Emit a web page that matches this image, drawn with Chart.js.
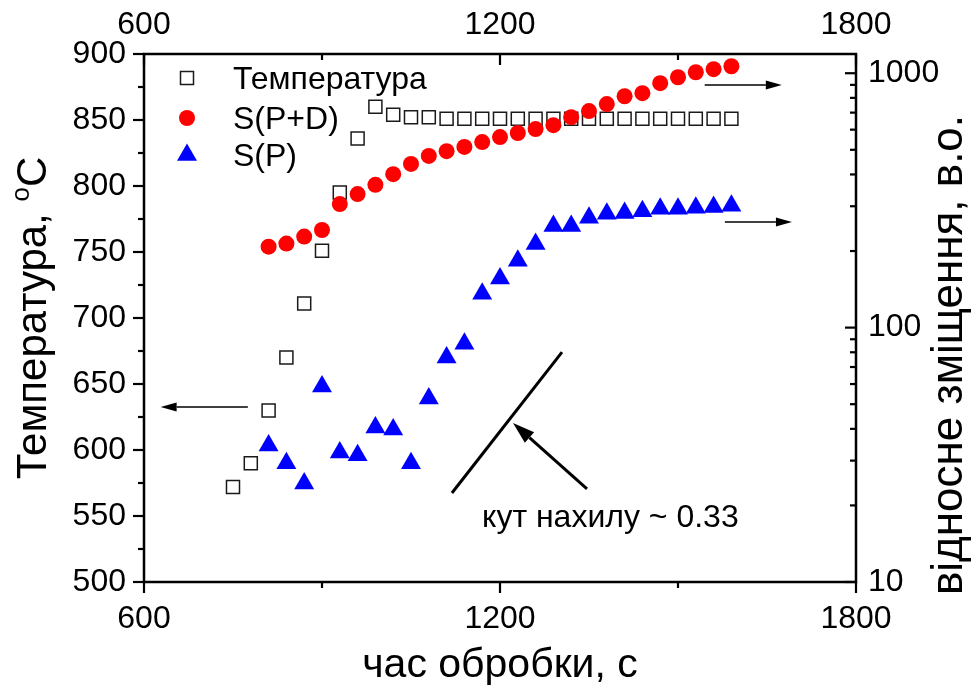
<!DOCTYPE html>
<html>
<head>
<meta charset="utf-8">
<script src="https://cdn.jsdelivr.net/npm/chart.js@4.4.1/dist/chart.umd.min.js"></script>
<style>
  html, body { margin: 0; padding: 0; background: #fff; }
  canvas { display: block; }
</style>
</head>
<body>
<canvas id="chart" width="975" height="686"></canvas>
<script>
// ---- values ----
const tempTime = [750, 780, 810, 840, 870, 900, 930, 960, 990, 1020, 1050, 1080, 1110, 1140, 1170,
                  1200, 1230, 1260, 1290, 1320, 1350, 1380, 1410, 1440, 1470, 1500, 1530, 1560, 1590];
const tempVals = [572, 590, 630, 670, 711, 751, 795, 836, 860, 854, 852, 852, 851, 851, 851,
                  851, 851, 851, 851, 851, 851, 851, 851, 851, 851, 851, 851, 851, 851];

const sTime = [810, 840, 870, 900, 930, 960, 990, 1020, 1050, 1080, 1110, 1140, 1170, 1200,
               1230, 1260, 1290, 1320, 1350, 1380, 1410, 1440, 1470, 1500, 1530, 1560, 1590];
const spdVals = [208, 214, 228, 242, 306, 335, 364, 401, 440, 473, 494, 513, 536, 561,
                 582, 603, 625, 672, 710, 756, 812, 835, 914, 964, 1009, 1037, 1065];
const spVals = [34.4, 29.3, 24.4, 58.7, 32.3, 31.5, 40.5, 39.8, 29.3, 52.7, 76.3, 86.5, 136, 156,
                183, 213, 251, 251, 270, 280, 282, 287, 293, 293, 296, 298, 301];

const seriesNames = ['Температура', 'S(P+D)', 'S(P)'];

// tick labels
const xLabels = [600, 1200, 1800];
const xMinor = [900, 1500];
const yLabels = [500, 550, 600, 650, 700, 750, 800, 850, 900];
const yMinor = [525, 575, 625, 675, 725, 775, 825, 875];
const y2Labels = [10, 100, 1000];

// annotations, in (time, temperature) units
const leftArrow = [[775, 632.6], [628, 632.6]];
const rightArrow1 = [[1545, 876.5], [1675, 876.5]];
const rightArrow2 = [[1579, 772.7], [1692, 772.7]];
const slopeLine = [[1119, 567.4], [1304.5, 674.2]];
const pointer = [[1346.6, 570.5], [1222, 620.5]];
const noteText = 'кут нахилу ~ 0.33';
const notePos = [1169.7, 541.7];

const FONT = "'Liberation Sans', Arial, sans-serif";

// y2 minor ticks (2..9 in each decade)
const y2Minor = [];
[10, 100].forEach(d => { for (let k = 2; k <= 9; k++) y2Minor.push(d * k); });

function arrow(ctx, x1, y1, x2, y2, lw, headLen, headW) {
  const ang = Math.atan2(y2 - y1, x2 - x1);
  const bx = x2 - Math.cos(ang) * headLen, by = y2 - Math.sin(ang) * headLen;
  ctx.lineWidth = lw;
  ctx.beginPath(); ctx.moveTo(x1, y1); ctx.lineTo(bx, by); ctx.stroke();
  ctx.beginPath();
  ctx.moveTo(x2, y2);
  ctx.lineTo(bx + Math.sin(ang) * headW, by - Math.cos(ang) * headW);
  ctx.lineTo(bx - Math.sin(ang) * headW, by + Math.cos(ang) * headW);
  ctx.closePath(); ctx.fill();
}

const extras = {
  id: 'extras',
  afterDraw(chart) {
    const { ctx, chartArea: a, scales } = chart;
    const sx = scales.x, sy = scales.y, sy2 = scales.y2;
    const P = (p) => [sx.getPixelForValue(p[0]), sy.getPixelForValue(p[1])];
    ctx.save();
    ctx.strokeStyle = '#000';
    ctx.fillStyle = '#000';
    ctx.lineCap = 'butt';

    // frame
    ctx.lineWidth = 2.5;
    ctx.strokeRect(a.left, a.top, a.right - a.left, a.bottom - a.top);

    // tick marks
    ctx.lineWidth = 2.2;
    const tick = (x1, y1, x2, y2) => { ctx.beginPath(); ctx.moveTo(x1, y1); ctx.lineTo(x2, y2); ctx.stroke(); };
    xLabels.forEach(v => { const px = sx.getPixelForValue(v); tick(px, a.bottom, px, a.bottom + 11); tick(px, a.top, px, a.top + 11); });
    xMinor.forEach(v => { const px = sx.getPixelForValue(v); tick(px, a.bottom, px, a.bottom + 6); tick(px, a.top, px, a.top + 6); });
    yLabels.forEach(v => { const py = sy.getPixelForValue(v); tick(a.left - 11, py, a.left, py); });
    yMinor.forEach(v => { const py = sy.getPixelForValue(v); tick(a.left - 6, py, a.left, py); });
    y2Labels.forEach(v => { const py = sy2.getPixelForValue(v); tick(a.right - 11, py, a.right, py); });
    y2Minor.forEach(v => { const py = sy2.getPixelForValue(v); tick(a.right - 6, py, a.right, py); });

    // legend
    const lx = 187, ly = [78, 118, 155];
    ctx.lineWidth = 1.5;
    ctx.strokeStyle = '#1a1a1a';
    ctx.strokeRect(lx - 6.5, ly[0] - 6.5, 13, 13);
    ctx.fillStyle = '#ff0000';
    ctx.beginPath(); ctx.arc(lx, ly[1], 8, 0, Math.PI * 2); ctx.fill();
    ctx.fillStyle = '#0000ff';
    ctx.beginPath();
    ctx.moveTo(lx, ly[2] - 11.5);
    ctx.lineTo(lx + 10, ly[2] + 5.75);
    ctx.lineTo(lx - 10, ly[2] + 5.75);
    ctx.closePath(); ctx.fill();
    ctx.fillStyle = '#000';
    ctx.strokeStyle = '#000';
    ctx.font = '32px ' + FONT;
    ctx.textAlign = 'left';
    ctx.textBaseline = 'alphabetic';
    const lb = [89, 129, 166];
    seriesNames.forEach((n, i) => ctx.fillText(n, 233, lb[i]));

    // axis titles
    ctx.font = '41px ' + FONT;
    ctx.textAlign = 'center';
    ctx.fillText('час обробки, с', (a.left + a.right) / 2, 677);

    // left title with superscript
    ctx.save();
    ctx.translate(46, (a.top + a.bottom) / 2);
    ctx.rotate(-Math.PI / 2);
    ctx.textAlign = 'left';
    const t1 = 'Температура, ', sup = 'o', t2 = 'C';
    ctx.font = '42px ' + FONT;
    const w1 = ctx.measureText(t1).width, w3 = ctx.measureText(t2).width;
    ctx.font = '26px ' + FONT;
    const w2 = ctx.measureText(sup).width;
    const x0 = -(w1 + w2 + w3) / 2;
    ctx.font = '42px ' + FONT;
    ctx.fillText(t1, x0, 0);
    ctx.font = '26px ' + FONT;
    ctx.fillText(sup, x0 + w1, -17);
    ctx.font = '42px ' + FONT;
    ctx.fillText(t2, x0 + w1 + w2, 0);
    ctx.restore();

    // right title
    ctx.save();
    ctx.translate(962, 355);
    ctx.rotate(-Math.PI / 2);
    ctx.textAlign = 'center';
    ctx.font = '44px ' + FONT;
    ctx.fillText('відносне зміщення, в.о.', 0, 0);
    ctx.restore();

    // annotations
    ctx.strokeStyle = '#000';
    ctx.fillStyle = '#000';
    let p1 = P(leftArrow[0]), p2 = P(leftArrow[1]);
    arrow(ctx, p1[0], p1[1], p2[0], p2[1], 1.6, 16, 4.5);
    p1 = P(rightArrow1[0]); p2 = P(rightArrow1[1]);
    arrow(ctx, p1[0], p1[1], p2[0], p2[1], 1.6, 16, 4.5);
    p1 = P(rightArrow2[0]); p2 = P(rightArrow2[1]);
    arrow(ctx, p1[0], p1[1], p2[0], p2[1], 1.6, 16, 4.5);
    p1 = P(slopeLine[0]); p2 = P(slopeLine[1]);
    ctx.lineWidth = 3;
    ctx.beginPath(); ctx.moveTo(p1[0], p1[1]); ctx.lineTo(p2[0], p2[1]); ctx.stroke();
    p1 = P(pointer[0]); p2 = P(pointer[1]);
    arrow(ctx, p1[0], p1[1], p2[0], p2[1], 3, 22, 7);

    ctx.font = '32px ' + FONT;
    ctx.textAlign = 'left';
    const np = P(notePos);
    ctx.fillText(noteText, np[0], np[1]);
    ctx.restore();
  }
};

const tickFont = { family: FONT, size: 32 };
const mk = (vals) => (s) => { s.ticks = vals.map(v => ({ value: v })); };
const plain = (v) => String(v);

new Chart(document.getElementById('chart'), {
  type: 'scatter',
  data: {
    datasets: [
      {
        label: seriesNames[0],
        data: tempTime.map((t, i) => ({ x: t, y: tempVals[i] })),
        xAxisID: 'x', yAxisID: 'y',
        pointStyle: 'rect', pointRadius: 9.2,
        borderColor: '#1a1a1a', borderWidth: 1.5,
        backgroundColor: 'rgba(0,0,0,0)',
        order: 3
      },
      {
        label: seriesNames[1],
        data: sTime.map((t, i) => ({ x: t, y: spdVals[i] })),
        xAxisID: 'x', yAxisID: 'y2',
        pointStyle: 'circle', pointRadius: 8,
        backgroundColor: '#ff0000', borderWidth: 0,
        order: 2
      },
      {
        label: seriesNames[2],
        data: sTime.map((t, i) => ({ x: t, y: spVals[i] })),
        xAxisID: 'x', yAxisID: 'y2',
        pointStyle: 'triangle', pointRadius: 11.5,
        backgroundColor: '#0000ff', borderWidth: 0,
        order: 1
      }
    ]
  },
  options: {
    responsive: false,
    animation: false,
    events: [],
    layout: { padding: 0 },
    plugins: { legend: { display: false }, tooltip: { enabled: false } },
    scales: {
      x: {
        type: 'linear', position: 'bottom', min: 600, max: 1800,
        afterBuildTicks: mk(xLabels),
        afterFit: (s) => { s.height = 104; },
        grid: { display: false, drawTicks: false }, border: { display: false },
        ticks: { font: tickFont, color: '#000', padding: 18, maxRotation: 0, autoSkip: false, callback: plain }
      },
      x2: {
        type: 'linear', axis: 'x', position: 'top', min: 600, max: 1800,
        afterBuildTicks: mk(xLabels),
        afterFit: (s) => { s.height = 54; },
        grid: { display: false, drawTicks: false }, border: { display: false },
        ticks: { font: tickFont, color: '#000', padding: 10, maxRotation: 0, autoSkip: false, callback: plain }
      },
      y: {
        type: 'linear', position: 'left', min: 500, max: 900,
        afterBuildTicks: mk(yLabels),
        afterFit: (s) => { s.width = 144; },
        grid: { display: false, drawTicks: false }, border: { display: false },
        ticks: { font: tickFont, color: '#000', padding: 18, autoSkip: false, callback: plain }
      },
      y2: {
        type: 'logarithmic', position: 'right', min: 10, max: 1190,
        afterBuildTicks: mk(y2Labels),
        afterFit: (s) => { s.width = 119; },
        grid: { display: false, drawTicks: false }, border: { display: false },
        ticks: { font: tickFont, color: '#000', padding: 12, autoSkip: false, callback: plain }
      }
    }
  },
  plugins: [extras]
});
</script>
</body>
</html>
